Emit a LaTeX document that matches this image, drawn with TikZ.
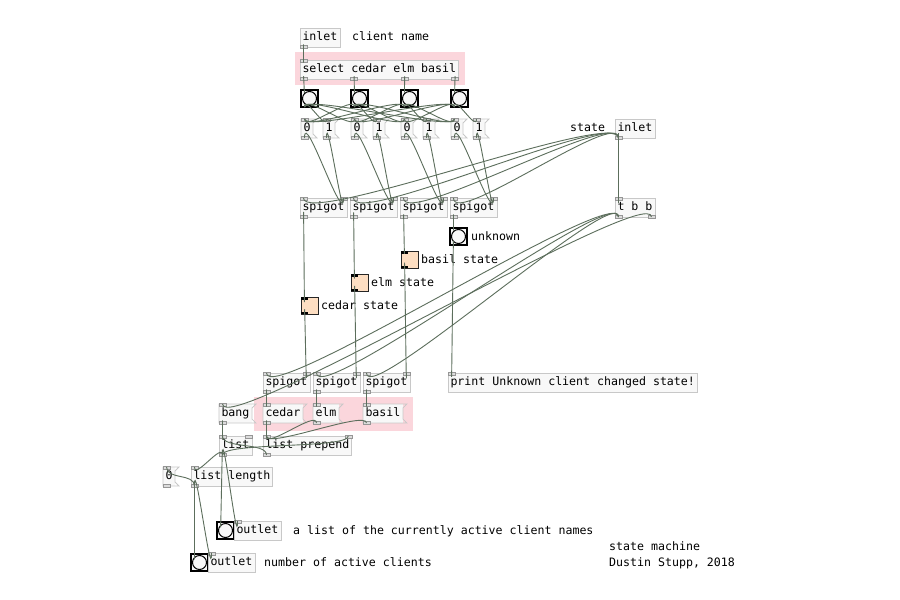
\documentclass[tikz,border=0pt]{standalone}
\usepackage{fontspec}
\setmonofont{DejaVu Sans Mono}
\usetikzlibrary{calc}

\definecolor{WireGreen}{RGB}{92,110,92}
\definecolor{BoxLine}{RGB}{200,200,200}
\definecolor{BoxFill}{RGB}{248,248,248}
\definecolor{PortFill}{RGB}{220,220,220}
\definecolor{PortLine}{RGB}{150,150,150}
\definecolor{Hilite}{RGB}{251,214,220}
\definecolor{Peach}{RGB}{253,222,194}

% patch cord: leaves an outlet downwards, enters an inlet from above
\newcommand{\wire}[2]{\draw[wire] let \p1=(#1), \p2=(#2), \n1={min(max(abs(\y2-\y1)*0.5,13),35)} in (\p1) .. controls +(0,\n1) and +(0,-\n1) .. (\p2);}

\begin{document}
\begin{tikzpicture}[x=1pt,y=-1pt,
  font=\ttfamily\fontsize{11.6}{13}\selectfont,
  obj/.style={draw=BoxLine,fill=BoxFill,line width=0.8pt,anchor=north west,inner xsep=2.5pt,inner ysep=0pt,outer sep=0pt,minimum height=19pt,text height=8.5pt,text depth=2.5pt},
  msg/.style={obj,draw=none},
  msgline/.style={draw=BoxLine,line width=0.8pt},
  note/.style={anchor=west,inner sep=0pt,text height=8.5pt,text depth=2.5pt},
  bng/.style={draw=black,line width=1.4pt,fill=BoxFill,anchor=north west,minimum size=17pt,inner sep=0pt,outer sep=0pt,path picture={\draw[black,line width=1pt] (path picture bounding box.center) circle (7pt);}},
  tgl/.style={draw=black!85,line width=1pt,fill=Peach,anchor=north west,minimum size=17pt,inner sep=0pt,outer sep=0pt},
  port/.style={fill=PortFill,draw=PortLine,line width=0.5pt},
  wire/.style={draw=WireGreen,line width=0.9pt}]

  \fill[white] (0,0) rectangle (900,600);
  \useasboundingbox (0,0) rectangle (900,600);

  \fill[Hilite] (295,52) rectangle (465,85);
  \fill[Hilite] (254,397) rectangle (413,431);

  \node (in1) [obj] at (300,28) {inlet};
  \node (cmtclient) [note] at (352,37.5) {client name};
  \node (sel) [obj] at (300,60) {select cedar elm basil};

  \foreach \i/\px in {1/301,2/351,3/401,4/451}{
    \node (b\i) [bng] at (\px,90) {};
    \node (off\i) [msg] at (\px,119) {0};
    \node (on\i) [msg] at (\px+22,119) {1};
    \node (sp\i) [obj] at (\px-1,198) {spigot};
  }

  \node (cmtstate) [note] at (570,128.5) {state};
  \node (in2) [obj] at (615,119) {inlet};
  \node (tbb) [obj] at (615,198) {t b b};

  \node (unk) [bng] at (450,228) {};
  \node (cmtunk) [note] at (471,237.5) {unknown};
  \node (tg3) [tgl] at (401,251) {};
  \node (cmtbasil) [note] at (421,260) {basil state};
  \node (tg2) [tgl] at (351,274) {};
  \node (cmtelm) [note] at (371,283) {elm state};
  \node (tg1) [tgl] at (301,297) {};
  \node (cmtcedar) [note] at (321,306) {cedar state};

  \foreach \i/\px in {1/263,2/313,3/363}{
    \node (lsp\i) [obj] at (\px,373) {spigot};
  }
  \node (prt) [obj] at (448,373) {print Unknown client changed state!};

  \node (bangm) [msg] at (219,404) {bang};
  \node (cedar) [msg] at (263,404) {cedar};
  \node (elm) [msg] at (313,404) {elm};
  \node (basil) [msg] at (363,404) {basil};

  \node (lst) [obj] at (219,436) {list};
  \node (lpre) [obj] at (263,436) {list prepend};
  \node (zero) [msg] at (163,467) {0};
  \node (llen) [obj] at (191,467) {list length};

  \node (ob1) [bng] at (217,522) {};
  \node (out1) [obj] at (234,521) {outlet};
  \node (cmtlist) [note] at (293,531) {a list of the currently active client names};
  \node (ob2) [bng] at (191,554) {};
  \node (out2) [obj] at (208,553) {outlet};
  \node (cmtcount) [note] at (264,563) {number of active clients};

  \node (cmttitle) [note] at (609,547) {state machine};
  \node (cmtauthor) [note] at (609,563) {Dustin Stupp, 2018};

  % message flags
  \foreach \m in {off1,off2,off3,off4,on1,on2,on3,on4,bangm,cedar,elm,basil,zero}{
    \draw[msgline] (\m.north west) -- ([xshift=4pt]\m.north east) -- ([yshift=-4pt]\m.north east)
      -- ([yshift=4pt]\m.south east) -- ([xshift=4pt]\m.south east) -- (\m.south west) -- cycle;
  }

  % inlets and outlets
  \foreach \obj/\cnt in {sel/1,sp1/2,sp2/2,sp3/2,sp4/2,tbb/1,lsp1/2,lsp2/2,lsp3/2,prt/1,lst/2,lpre/2,llen/1,out1/1,out2/1,
      off1/1,off2/1,off3/1,off4/1,on1/1,on2/1,on3/1,on4/1,bangm/1,cedar/1,elm/1,basil/1,zero/1}{
    \foreach \k in {1,...,\cnt}{
      \path let \p1=(\obj.north west), \p2=(\obj.north east) in
        coordinate (\obj-in\k) at ({\x1+(\x2-\x1-7pt)*(\k-1)/max(\cnt-1,1)+3.5pt},\y1);
      \filldraw[port] ([xshift=-3.5pt,yshift=1pt]\obj-in\k) rectangle ([xshift=3.5pt,yshift=-2pt]\obj-in\k);
    }
  }
  \foreach \obj/\cnt in {in1/1,in2/1,sel/4,sp1/1,sp2/1,sp3/1,sp4/1,tbb/2,lsp1/1,lsp2/1,lsp3/1,lst/1,lpre/1,llen/1,
      off1/1,off2/1,off3/1,off4/1,on1/1,on2/1,on3/1,on4/1,bangm/1,cedar/1,elm/1,basil/1,zero/1}{
    \foreach \k in {1,...,\cnt}{
      \path let \p1=(\obj.south west), \p2=(\obj.south east) in
        coordinate (\obj-out\k) at ({\x1+(\x2-\x1-7pt)*(\k-1)/max(\cnt-1,1)+3.5pt},\y1);
      \filldraw[port] ([xshift=-3.5pt,yshift=-1pt]\obj-out\k) rectangle ([xshift=3.5pt,yshift=2pt]\obj-out\k);
    }
  }
  \foreach \g in {b1,b2,b3,b4,unk,tg1,tg2,tg3,ob1,ob2}{
    \coordinate (\g-in1) at ([xshift=3.5pt]\g.north west);
    \coordinate (\g-out1) at ([xshift=3.5pt]\g.south west);
  }
  \foreach \g in {tg1,tg2,tg3}{
    \fill[black] (\g.north west) rectangle ++(7pt,-2.5pt);
    \fill[black] (\g.south west) rectangle ++(7pt,2.5pt);
  }

  % cords
  \wire{in1-out1}{sel-in1}
  \foreach \i in {1,...,4}{
    \wire{sel-out\i}{b\i-in1}
    \foreach \j in {1,...,4}{
      \ifnum\i=\j \wire{b\i-out1}{on\j-in1} \else \wire{b\i-out1}{off\j-in1} \fi
    }
  }
  \foreach \i in {1,...,4}{
    \wire{off\i-out1}{sp\i-in2}
    \wire{on\i-out1}{sp\i-in2}
    \wire{in2-out1}{sp\i-in1}
  }
  \wire{in2-out1}{tbb-in1}
  \foreach \i in {1,2,3}{
    \wire{sp\i-out1}{tg\i-in1}
    \wire{tg\i-out1}{lsp\i-in2}
    \wire{tbb-out1}{lsp\i-in1}
  }
  \wire{sp4-out1}{unk-in1}
  \wire{unk-out1}{prt-in1}
  \wire{tbb-out2}{bangm-in1}
  \wire{lsp1-out1}{cedar-in1}
  \wire{lsp2-out1}{elm-in1}
  \wire{lsp3-out1}{basil-in1}
  \foreach \m in {cedar,elm,basil}{
    \wire{\m-out1}{lpre-in1}
  }
  \wire{bangm-out1}{lst-in1}
  \wire{lpre-out1}{lst-in1}
  \wire{lst-out1}{lpre-in2}
  \wire{lst-out1}{llen-in1}
  \wire{lst-out1}{ob1-in1}
  \wire{lst-out1}{out1-in1}
  \wire{llen-out1}{zero-in1}
  \wire{llen-out1}{ob2-in1}
  \wire{llen-out1}{out2-in1}
\end{tikzpicture}
\end{document}
